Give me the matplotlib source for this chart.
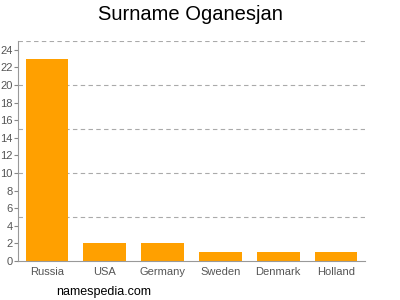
import matplotlib
matplotlib.use("Agg")
import matplotlib.pyplot as plt

plt.rcParams["font.family"] = ["Liberation Sans", "DejaVu Sans"]

countries = ["Russia", "USA", "Germany", "Sweden", "Denmark", "Holland"]
counts = [23, 2, 2, 1, 1, 1]
yticks = [0, 2, 4, 6, 8, 10, 12, 14, 16, 18, 20, 22, 24]
grid_levels = [5, 10, 15, 20, 25]

fig = plt.figure(figsize=(4, 3), dpi=100)
ax = fig.add_axes([0.045, 0.13, 0.8675, 0.733])
ax.bar(range(len(countries)), counts, width=0.74, color="#ffa000", zorder=2)
for g in grid_levels:
    ax.axhline(g, color="#aaaaaa", lw=0.8, ls=(0, (4, 3)), zorder=1)
ax.set_xlim(-0.5, 5.5)
ax.set_ylim(0, 25)
ax.set_yticks(yticks)
ax.set_xticks(range(len(countries)))
ax.set_xticklabels(countries)
ax.tick_params(axis="both", colors="#888888", labelcolor="#555555", labelsize=8, length=3, width=0.8)
ax.tick_params(axis="y", pad=1)
ax.tick_params(axis="x", direction="in", pad=4)
for s in ["top", "right"]:
    ax.spines[s].set_visible(False)
for s in ["left", "bottom"]:
    ax.spines[s].set_color("#999999")
    ax.spines[s].set_linewidth(0.8)
fig.text(0.475, 0.95, "Surname Oganesjan", ha="center", va="center", fontsize=14.5)
fig.text(0.26, 0.027, "namespedia.com", ha="center", va="center", fontsize=9)
fig.savefig("out.png", dpi=100)
